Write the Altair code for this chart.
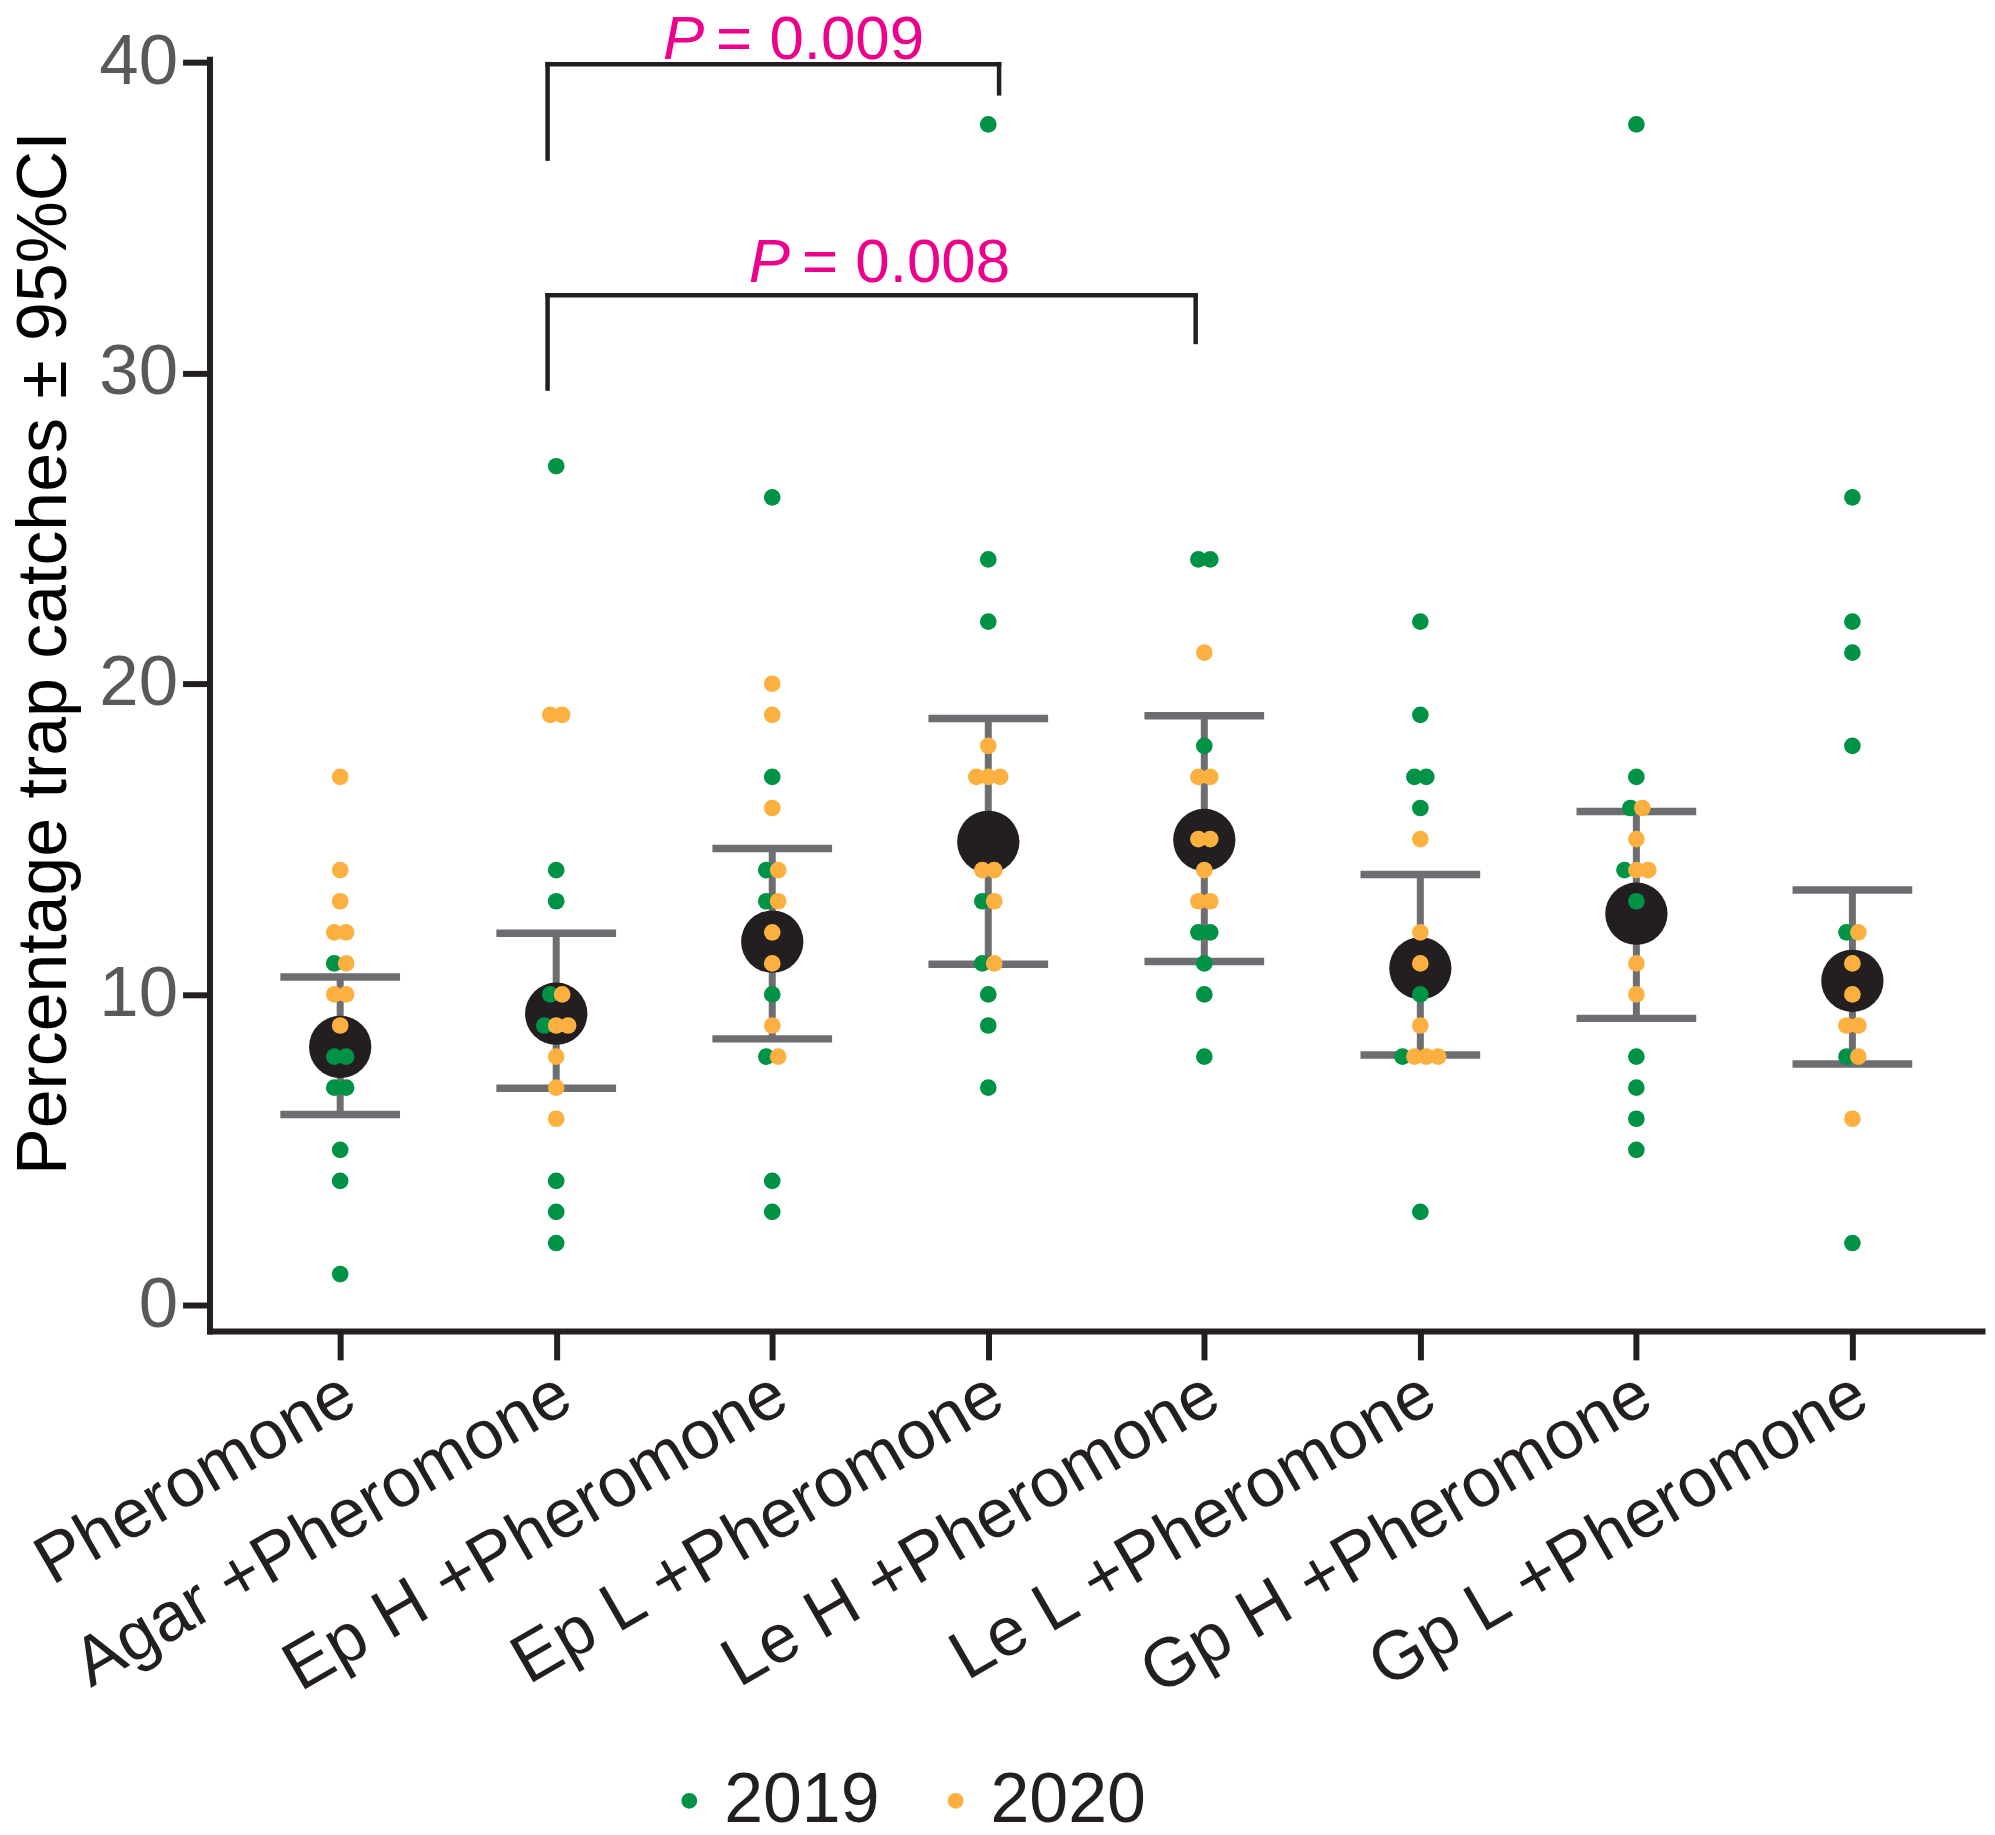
import altair as alt
import pandas as pd

# ---------------- data ----------------
categories = [
    "Pheromone", "Agar +Pheromone", "Ep H +Pheromone", "Ep L +Pheromone",
    "Le H +Pheromone", "Le L +Pheromone", "Gp H +Pheromone", "Gp L +Pheromone",
]
years = ["2019", "2020"]

catches_2019 = [
    [11, 8, 8, 7, 7, 5, 4, 1],
    [27, 14, 13, 10, 9, 4, 3, 2],
    [26, 17, 14, 13, 10, 8, 4, 3],
    [38, 24, 22, 13, 11, 10, 9, 7],
    [24, 24, 18, 12, 12, 11, 10, 8],
    [22, 19, 17, 17, 16, 10, 8, 3],
    [38, 17, 16, 14, 13, 8, 7, 6, 5],
    [26, 22, 21, 18, 12, 8, 2],
]
catches_2020 = [
    [17, 14, 13, 12, 12, 11, 10, 10, 9],
    [19, 19, 10, 9, 9, 8, 7, 6],
    [20, 19, 16, 14, 13, 12, 11, 9, 8],
    [18, 17, 17, 17, 14, 14, 13, 11],
    [21, 17, 17, 15, 15, 14, 13, 13],
    [15, 12, 11, 9, 8, 8, 8],
    [16, 15, 14, 14, 11, 10],
    [12, 11, 10, 9, 9, 8, 6],
]
means = [8.31, 9.38, 11.70, 14.91, 14.97, 10.84, 12.60, 10.44]
ci_low = [6.14, 6.98, 8.57, 10.97, 11.06, 8.05, 9.23, 7.76]
ci_high = [10.56, 11.97, 14.70, 18.88, 18.97, 13.86, 15.89, 13.36]

y_ticks = [0, 10, 20, 30, 40]

# significance brackets (x in category units, y in data units)
bracket_start = [0.96, 0.96]
bracket_end = [3.05, 3.96]
bracket_top = [39.94, 32.5]
bracket_start_low = [36.9, 29.5]
bracket_end_low = [39.0, 31.0]
p_values = ["= 0.009", "= 0.008"]
p_label_x = [1.717, 2.115]
p_label_y = [40.1, 32.94]

# ---------------- tables ----------------
rows = []
for yr, series in zip(years, [catches_2019, catches_2020]):
    for gi, vals in enumerate(series):
        for v in vals:
            rows.append({"gi": gi, "category": categories[gi], "year": yr, "value": v})
points = pd.DataFrame(rows)

groups = pd.DataFrame({
    "gi": list(range(len(categories))),
    "category": categories,
    "mean": means,
    "lo": ci_low,
    "hi": ci_high,
})

h_seg = pd.DataFrame({"x": bracket_start, "x2": bracket_end, "y": bracket_top})
v_seg = pd.DataFrame({
    "x": bracket_start + bracket_end,
    "y": bracket_start_low + bracket_end_low,
    "y2": bracket_top + bracket_top,
})
labels = pd.DataFrame({"x": p_label_x, "y": p_label_y, "text": p_values})

# ---------------- styling ----------------
FONT = "Liberation Sans"
BLACK = "#231f20"
GRAY = "#6d6e71"
GREEN = "#009245"
ORANGE = "#fbb040"
MAGENTA = "#ec008c"

xs = alt.Scale(domain=[-0.605, 7.6], nice=False, zero=False)
ys = alt.Scale(domain=[-0.83, 40.1], nice=False, zero=False)

label_expr = "[" + ",".join("'" + c + "'" for c in categories) + "][datum.value]"

x_axis = alt.Axis(
    values=list(range(len(categories))), labelExpr=label_expr, title=None,
    labelAngle=-30, labelAlign="right", labelBaseline="top", labelLimit=2000,
    labelFont=FONT, labelFontSize=69, labelColor=BLACK, labelPadding=0,
    labelOffset=-8, labelOverlap=False, labelFlush=False, labelBound=False,
    tickSize=29, tickWidth=6, tickColor=BLACK,
    domainWidth=6, domainColor=BLACK, domainCap="square", grid=False,
)
y_axis = alt.Axis(
    values=y_ticks, title="Percentage trap catches ± 95%CI",
    titleFont=FONT, titleFontSize=70, titleFontWeight="normal", titleColor="black",
    titleAngle=-90, titleAlign="center", titleBaseline="alphabetic",
    titleX=-144, titleY=595, titleLimit=2000,
    labelFont=FONT, labelFontSize=71, labelColor="#58595b", labelPadding=5,
    tickSize=27, tickWidth=6, tickColor=BLACK,
    domainWidth=6, domainColor=BLACK, domainCap="square", grid=False,
)


def X(field):
    return alt.X(field, type="quantitative", scale=xs, axis=x_axis)


def Y(field):
    return alt.Y(field, type="quantitative", scale=ys, axis=y_axis)


base_g = alt.Chart(groups)

err_rule = base_g.mark_rule(color=GRAY, strokeWidth=7).encode(
    x=X("gi"), y=Y("lo"), y2="hi"
)
cap_lo = base_g.mark_tick(orient="horizontal", size=120, thickness=7.5, color=GRAY, opacity=1).encode(
    x=X("gi"), y=Y("lo")
)
cap_hi = base_g.mark_tick(orient="horizontal", size=120, thickness=7.5, color=GRAY, opacity=1).encode(
    x=X("gi"), y=Y("hi")
)
mean_dot = base_g.mark_circle(size=3900, color=BLACK, opacity=1).encode(
    x=X("gi"), y=Y("mean")
)

dots = (
    alt.Chart(points)
    .transform_joinaggregate(n="count()", groupby=["gi", "value"])
    .transform_window(k="row_number()", groupby=["gi", "value"], sort=[alt.SortField("year")])
    .transform_calculate(xpos="datum.gi + (datum.k - 1 - (datum.n - 1) / 2) * 0.055")
    .mark_circle(size=280, opacity=1)
    .encode(
        x=X("xpos"),
        y=Y("value"),
        order=alt.Order("year:N", sort="ascending"),
        color=alt.Color(
            "year:N",
            scale=alt.Scale(domain=years, range=[GREEN, ORANGE]),
            legend=alt.Legend(
                orient="none", legendX=432, legendY=1711, direction="horizontal",
                title=None, labelFont=FONT, labelFontSize=70, labelColor=BLACK,
                symbolType="circle", symbolSize=250, symbolStrokeWidth=0,
                symbolOpacity=1, labelOffset=0, symbolOffset=14,
                columnPadding=27, padding=0, labelLimit=1000,
            ),
        ),
    )
)

brk_h = alt.Chart(h_seg).mark_rule(color=BLACK, strokeWidth=4.5, strokeCap="square").encode(
    x=X("x"), x2="x2", y=Y("y")
)
brk_v = alt.Chart(v_seg).mark_rule(color=BLACK, strokeWidth=4.5, strokeCap="square").encode(
    x=X("x"), y=Y("y"), y2="y2"
)

p_italic = alt.Chart(labels).mark_text(
    text="P", font=FONT, fontSize=62, fontStyle="italic", color=MAGENTA,
    align="right", baseline="alphabetic", dx=-7,
).encode(x=X("x"), y=Y("y"))
p_rest = alt.Chart(labels).mark_text(
    font=FONT, fontSize=62, color=MAGENTA, align="left", baseline="alphabetic", dx=5,
).encode(x=X("x"), y=Y("y"), text="text:N")

chart = (
    alt.layer(err_rule, cap_lo, cap_hi, mean_dot, dots, brk_h, brk_v, p_italic, p_rest)
    .properties(
        width=1777, height=1275,
        autosize=alt.AutoSizeParams(type="none"),
        padding={"left": 202, "top": 49, "right": 5, "bottom": 500},
        background="white",
    )
    .configure_view(stroke=None)
)

chart.save("out.html", embed_options={"renderer": "svg", "actions": False})
